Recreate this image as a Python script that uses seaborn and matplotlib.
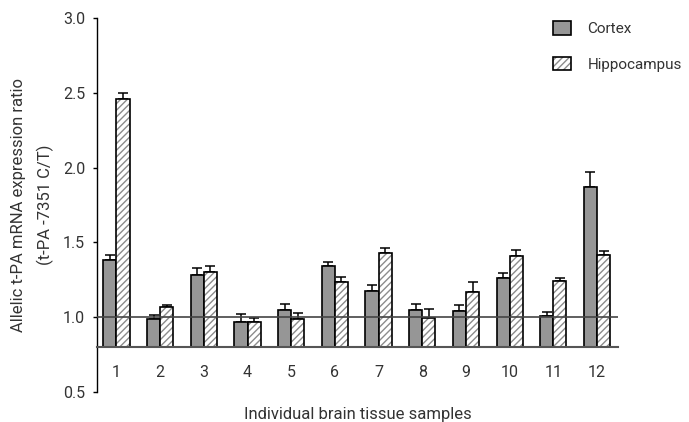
import numpy as np
import pandas as pd
import matplotlib
matplotlib.use("Agg")
import matplotlib.pyplot as plt
import seaborn as sns
from matplotlib.patches import Patch
from matplotlib.colors import to_rgba

# ---- data ----
samples = ["1", "2", "3", "4", "5", "6", "7", "8", "9", "10", "11", "12"]
tissues = ["Cortex", "Hippocampus"]
cortex = [1.38, 0.985, 1.285, 0.97, 1.05, 1.343, 1.174, 1.049, 1.042, 1.263, 1.011, 1.871]
cortex_err = [0.035, 0.030, 0.045, 0.050, 0.036, 0.025, 0.040, 0.038, 0.038, 0.031, 0.024, 0.098]
hippo = [2.46, 1.07, 1.30, 0.971, 0.99, 1.232, 1.428, 0.995, 1.169, 1.41, 1.243, 1.414]
hippo_err = [0.038, 0.012, 0.044, 0.024, 0.040, 0.037, 0.033, 0.060, 0.067, 0.040, 0.022, 0.027]
y_ticks = [0.5, 1.0, 1.5, 2.0, 2.5, 3.0]
baseline = 0.8
reference_line = 1.0

cortex_color = "#969696"
hatch_color = "#8c8c8c"
text_color = "#333333"

sns.set_theme(style="ticks")
plt.rcParams["font.family"] = ["Roboto", "DejaVu Sans"]
plt.rcParams["hatch.linewidth"] = 1.0

fig = plt.figure(figsize=(6.89, 4.22), dpi=100)
ax = fig.add_axes([97 / 689, 30 / 422, 521 / 689, 374 / 422])

df = pd.DataFrame({
    "sample": samples * 2,
    "tissue": [tissues[0]] * len(samples) + [tissues[1]] * len(samples),
    "ratio": cortex + hippo,
})

sns.barplot(data=df, x="sample", y="ratio", hue="tissue", order=samples,
            hue_order=tissues, palette=[cortex_color, "white"], saturation=1,
            width=0.6, errorbar=None, legend=False, ax=ax,
            edgecolor="black", linewidth=1.2, zorder=2)

n = len(samples)
errs = cortex_err + hippo_err
xs, tops = [], []
for i, p in enumerate(ax.patches[: 2 * n]):
    val = p.get_height()
    p.set_y(baseline)
    p.set_height(val - baseline)
    if i >= n:
        p.set_hatch("/////")
        p._hatch_color = to_rgba(hatch_color)
    xs.append(p.get_x() + p.get_width() / 2)
    tops.append(val)

ax.errorbar(xs, tops, yerr=[np.zeros(len(errs)), errs], fmt="none",
            ecolor="black", elinewidth=1.1, capsize=3.6, capthick=1.1, zorder=1)

ax.axhline(reference_line, color="#444444", lw=1.2, zorder=3)

ax.set_xlim(-0.446, 11.48)
ax.set_ylim(0.5, 3.0)
ax.set_yticks(y_ticks)
ax.yaxis.set_major_formatter("{x:.1f}")

sns.despine(ax=ax)
ax.spines["bottom"].set_position(("data", baseline))
ax.spines["bottom"].set_color("#555555")
ax.spines["bottom"].set_linewidth(1.5)
ax.spines["left"].set_color("black")
ax.spines["left"].set_linewidth(1.0)

ax.tick_params(axis="x", length=0, pad=13, labelsize=11.5, labelcolor=text_color)
ax.tick_params(axis="y", length=3, width=1, pad=5.5, labelsize=11.5,
               labelcolor=text_color, color="black")

ax.set_xlabel("Individual brain tissue samples", fontsize=12, color=text_color)
ax.xaxis.set_label_coords(0.5, -0.04)
ax.xaxis.label.set_va("top")
ax.set_ylabel("Allelic t-PA mRNA expression ratio\n(t-PA -7351 C/T)",
              fontsize=12, color=text_color, linespacing=1.8)
ax.yaxis.set_label_coords(-0.083, 0.5)

handles = [Patch(facecolor=cortex_color, edgecolor="black", linewidth=1.2),
           Patch(facecolor="white", edgecolor="black", linewidth=1.2, hatch="/////")]
leg = fig.legend(handles, tissues, loc="upper left",
                 bbox_to_anchor=(553 / 689, (422 - 21) / 422),
                 bbox_transform=fig.transFigure, frameon=False, fontsize=11,
                 handlelength=1.15, handleheight=1.0, handletextpad=1.1,
                 labelspacing=1.35, borderpad=0, borderaxespad=0)
for t in leg.get_texts():
    t.set_color(text_color)
leg.get_patches()[1]._hatch_color = to_rgba(hatch_color)

fig.savefig("out.png", dpi=100)
